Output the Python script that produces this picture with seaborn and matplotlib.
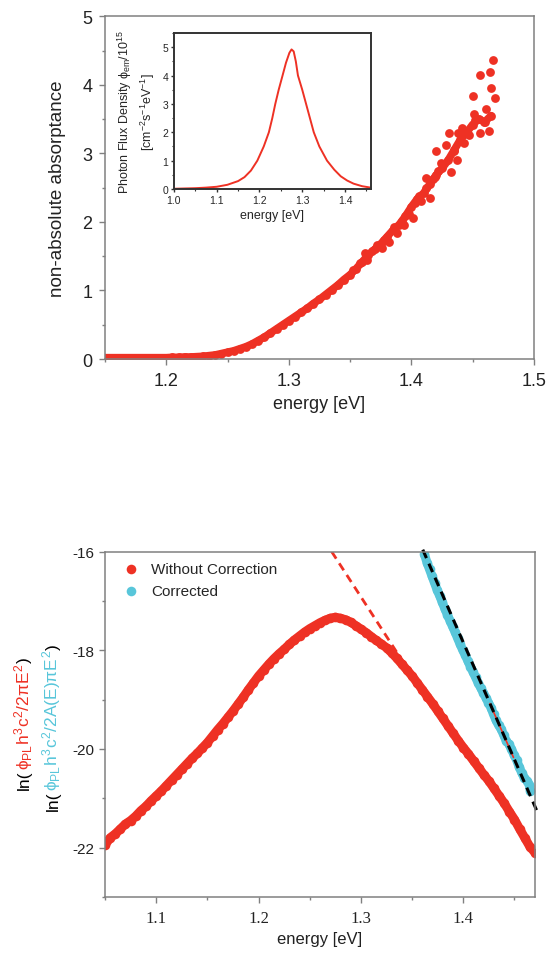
import seaborn as sns
import matplotlib.pyplot as plt
from matplotlib.ticker import MultipleLocator


RED = "#EE3124"
CYAN = "#58C6DA"
GRAY = "#808080"

# top panel: non-absolute absorptance
abs_energy = [1.150, 1.155, 1.160, 1.165, 1.170, 1.175, 1.180, 1.185, 1.190, 1.195,
              1.200, 1.205, 1.210, 1.215, 1.220, 1.225, 1.230, 1.235, 1.240, 1.245,
              1.250, 1.255, 1.260, 1.265, 1.270, 1.275, 1.280, 1.285, 1.290, 1.295,
              1.300, 1.305, 1.310, 1.315, 1.320, 1.325, 1.330, 1.335, 1.340, 1.345,
              1.350, 1.355, 1.360, 1.365, 1.370, 1.375, 1.380, 1.385, 1.390, 1.395,
              1.400, 1.405, 1.410, 1.415, 1.420, 1.425, 1.430, 1.435, 1.440, 1.445,
              1.450, 1.455, 1.460, 1.465]
abs_value = [0.02, 0.02, 0.02, 0.02, 0.02, 0.02, 0.02, 0.02, 0.02, 0.02,
             0.02, 0.025, 0.025, 0.03, 0.03, 0.035, 0.04, 0.05, 0.06, 0.08,
             0.10, 0.12, 0.15, 0.18, 0.22, 0.27, 0.32, 0.38, 0.44, 0.50,
             0.56, 0.62, 0.68, 0.74, 0.81, 0.87, 0.94, 1.01, 1.08, 1.16,
             1.23, 1.32, 1.42, 1.52, 1.60, 1.68, 1.78, 1.88, 1.96, 2.08,
             2.22, 2.34, 2.42, 2.55, 2.68, 2.78, 2.90, 3.05, 3.20, 3.30,
             3.42, 3.50, 3.46, 3.55]
# noisy points at the high-energy end
abs_noise_energy = [1.352, 1.358, 1.362, 1.364, 1.368, 1.372, 1.376, 1.378, 1.382, 1.386,
                    1.388, 1.392, 1.394, 1.398, 1.401, 1.403, 1.406, 1.408, 1.412, 1.412,
                    1.415, 1.418, 1.419, 1.420, 1.422, 1.424, 1.428, 1.431, 1.432, 1.435,
                    1.437, 1.438, 1.441, 1.443, 1.447, 1.450, 1.451, 1.452, 1.456, 1.456,
                    1.459, 1.461, 1.463, 1.464, 1.465, 1.467, 1.468]
abs_noise_value = [1.30, 1.40, 1.55, 1.45, 1.58, 1.66, 1.62, 1.74, 1.70, 1.92,
                   1.84, 2.02, 1.95, 2.12, 2.06, 2.28, 2.38, 2.30, 2.50, 2.64,
                   2.35, 2.62, 2.66, 3.03, 2.74, 2.86, 3.12, 3.29, 2.73, 3.03,
                   2.90, 3.29, 3.37, 3.15, 3.27, 3.84, 3.58, 3.48, 3.29, 4.15,
                   3.46, 3.65, 3.32, 4.18, 3.95, 4.36, 3.81]

# inset: photon flux density
pl_energy = [1.000, 1.025, 1.050, 1.075, 1.100, 1.125, 1.150, 1.165, 1.180, 1.195,
             1.210, 1.222, 1.230, 1.237, 1.245, 1.254, 1.262, 1.270, 1.275, 1.280,
             1.285, 1.290, 1.300, 1.309, 1.318, 1.327, 1.340, 1.358, 1.375, 1.390,
             1.405, 1.420, 1.440, 1.460]
pl_flux = [0.01, 0.02, 0.03, 0.05, 0.08, 0.15, 0.28, 0.42, 0.65, 1.00,
           1.50, 2.00, 2.50, 3.00, 3.50, 4.00, 4.45, 4.80, 4.92, 4.85,
           4.50, 4.00, 3.50, 3.00, 2.50, 2.00, 1.50, 1.00, 0.68, 0.45,
           0.30, 0.19, 0.10, 0.05]

# bottom panel: log of scaled PL
ln_energy = [1.050, 1.055, 1.060, 1.065, 1.070, 1.075, 1.080, 1.085, 1.090, 1.095,
             1.100, 1.105, 1.110, 1.115, 1.120, 1.125, 1.130, 1.135, 1.140, 1.145,
             1.150, 1.155, 1.160, 1.165, 1.170, 1.175, 1.180, 1.185, 1.190, 1.195,
             1.200, 1.205, 1.210, 1.215, 1.220, 1.225, 1.230, 1.235, 1.240, 1.245,
             1.250, 1.255, 1.260, 1.265, 1.270, 1.275, 1.280, 1.285, 1.290, 1.295,
             1.300, 1.305, 1.310, 1.315, 1.320, 1.325, 1.330, 1.335, 1.340, 1.345,
             1.350, 1.355, 1.360, 1.365, 1.370, 1.375, 1.380, 1.385, 1.390, 1.395,
             1.400, 1.405, 1.410, 1.415, 1.420, 1.425, 1.430, 1.435, 1.440, 1.445,
             1.450, 1.455, 1.460, 1.465, 1.470]
ln_raw = [-21.95, -21.80, -21.72, -21.62, -21.52, -21.45, -21.36, -21.25, -21.16, -21.05,
          -20.95, -20.85, -20.74, -20.63, -20.52, -20.41, -20.30, -20.19, -20.09, -19.98,
          -19.87, -19.74, -19.61, -19.49, -19.36, -19.23, -19.09, -18.95, -18.80, -18.66,
          -18.52, -18.40, -18.28, -18.17, -18.07, -17.98, -17.88, -17.79, -17.71, -17.63,
          -17.56, -17.50, -17.44, -17.39, -17.35, -17.33, -17.35, -17.38, -17.43, -17.50,
          -17.57, -17.64, -17.72, -17.80, -17.87, -17.95, -18.05, -18.16, -18.28, -18.40,
          -18.52, -18.66, -18.80, -18.94, -19.08, -19.23, -19.38, -19.53, -19.68, -19.83,
          -19.97, -20.10, -20.24, -20.38, -20.52, -20.65, -20.80, -20.95, -21.10, -21.27,
          -21.43, -21.62, -21.80, -21.98, -22.10]
ln_corr_energy = [1.3620, 1.3645, 1.3670, 1.3695, 1.3720, 1.3745, 1.3770, 1.3795, 1.3820, 1.3845,
                  1.3870, 1.3895, 1.3920, 1.3945, 1.3970, 1.3995, 1.4020, 1.4045, 1.4070, 1.4095,
                  1.4120, 1.4145, 1.4170, 1.4195, 1.4220, 1.4245, 1.4270, 1.4295, 1.4320, 1.4345,
                  1.4370, 1.4395, 1.4420, 1.4445, 1.4470, 1.4495, 1.4520, 1.4545, 1.4570, 1.4595,
                  1.4620, 1.4645, 1.4655]
ln_corr = [-16.05, -16.22, -16.36, -16.50, -16.64, -16.78, -16.90, -17.03, -17.16, -17.28,
           -17.40, -17.52, -17.63, -17.76, -17.88, -18.00, -18.10, -18.22, -18.33, -18.44,
           -18.55, -18.66, -18.76, -18.86, -18.96, -19.06, -19.16, -19.30, -19.42, -19.52,
           -19.60, -19.72, -19.84, -19.90, -20.00, -20.12, -20.22, -20.36, -20.48, -20.58,
           -20.64, -20.72, -20.85]

# fitted lines (end points)
fit_raw_energy = [1.2714, 1.3450]
fit_raw_value = [-16.0, -18.36]
fit_corr_energy = [1.3604, 1.4720]
fit_corr_value = [-15.96, -21.26]
fit_range_energy = [1.426, 1.449]
fit_range_value = [-19.08, -20.17]


def box(ax, color, lw):
    for sp in ax.spines.values():
        sp.set_visible(True)
        sp.set_color(color)
        sp.set_linewidth(lw)


def dot_band(ax, x, y, color, size, lw, label=None):
    # thick line under the dots so the dense data reads as one band
    sns.lineplot(x=x, y=y, ax=ax, color=color, linewidth=lw, legend=False,
                 solid_capstyle="round", solid_joinstyle="round")
    sns.scatterplot(x=x, y=y, ax=ax, color=color, s=size, linewidth=0, label=label,
                    legend=label is not None)


def colored_vlabel(ax, x, y, pieces, size):
    prev = None
    for txt, col in pieces:
        kw = dict(color=col, rotation=90, rotation_mode="anchor",
                  ha="left", va="baseline", fontsize=size)
        if prev is None:
            prev = ax.text(x, y, txt, transform=ax.transAxes, **kw)
        else:
            prev = ax.annotate(txt, xy=(x, 1), xycoords=(ax.transAxes, prev),
                               annotation_clip=False, **kw)


def main():
    sns.set_theme(style="ticks")
    plt.rcParams["font.family"] = ["Liberation Sans", "DejaVu Sans"]
    plt.rcParams["axes.unicode_minus"] = False
    plt.rcParams["mathtext.fontset"] = "custom"
    plt.rcParams["mathtext.rm"] = "Liberation Sans"
    plt.rcParams["mathtext.it"] = "Liberation Sans"
    plt.rcParams["mathtext.bf"] = "Liberation Sans:bold"

    fig = plt.figure(figsize=(5.47, 9.54), dpi=100)

    # --- top panel
    ax1 = fig.add_axes([0.192, 0.6226, 0.784, 0.3593])
    dot_band(ax1, abs_energy, abs_value, RED, 40, 5.5)
    sns.scatterplot(x=abs_noise_energy, y=abs_noise_value, ax=ax1, color=RED, s=40,
                    linewidth=0, legend=False)
    ax1.set_xlim(1.15, 1.5)
    ax1.set_ylim(0, 5)
    ax1.xaxis.set_major_locator(MultipleLocator(0.1))
    ax1.xaxis.set_minor_locator(MultipleLocator(0.05))
    ax1.yaxis.set_major_locator(MultipleLocator(1))
    ax1.yaxis.set_minor_locator(MultipleLocator(0.5))
    box(ax1, GRAY, 1.1)
    ax1.tick_params(which="major", direction="out", length=4, width=1, color=GRAY,
                    labelsize=13, labelcolor="#222222", pad=5)
    ax1.tick_params(which="minor", direction="out", length=2.5, width=1, color=GRAY)
    ax1.set_xlabel("energy [eV]", fontsize=13, color="#222222", labelpad=5)
    ax1.set_ylabel("non-absolute absorptance", fontsize=13.5, color="#222222", labelpad=12)

    # --- inset
    axi = fig.add_axes([0.318, 0.8008, 0.3596, 0.1636])
    sns.lineplot(x=pl_energy, y=pl_flux, ax=axi, color=RED, linewidth=1.4)
    axi.set_xlim(1.0, 1.46)
    axi.set_ylim(0, 5.5)
    axi.xaxis.set_major_locator(MultipleLocator(0.1))
    axi.xaxis.set_minor_locator(MultipleLocator(0.05))
    axi.yaxis.set_major_locator(MultipleLocator(1))
    axi.yaxis.set_minor_locator(MultipleLocator(0.5))
    box(axi, "#333333", 1.4)
    axi.tick_params(which="major", direction="out", length=2.5, width=1, color="#333333",
                    labelsize=7.5, pad=1.5)
    axi.tick_params(which="minor", direction="out", length=1.5, width=0.8, color="#333333")
    axi.set_xlabel("energy [eV]", fontsize=9, labelpad=3)
    axi.set_ylabel("Photon Flux Density $\\phi_{em}$/10$^{15}$\n[cm$^{-2}$s$^{-1}$eV$^{-1}$]",
                   fontsize=9, labelpad=4, linespacing=1.35)

    # --- bottom panel
    ax2 = fig.add_axes([0.192, 0.0587, 0.786, 0.362])
    dot_band(ax2, ln_energy, ln_raw, RED, 48, 6.5, "Without Correction")
    dot_band(ax2, ln_corr_energy, ln_corr, CYAN, 48, 6.5, "Corrected")
    sns.lineplot(x=fit_raw_energy, y=fit_raw_value, ax=ax2, color=RED, linewidth=2,
                 linestyle=(0, (3, 2)), legend=False)
    sns.lineplot(x=fit_range_energy, y=fit_range_value, ax=ax2, color=RED, linewidth=1.2,
                 legend=False)
    sns.lineplot(x=fit_corr_energy, y=fit_corr_value, ax=ax2, color="black", linewidth=2.2,
                 linestyle=(0, (3, 2)), legend=False, clip_on=False)
    ax2.set_xlim(1.05, 1.47)
    ax2.set_ylim(-23, -16)
    ax2.xaxis.set_major_locator(MultipleLocator(0.1))
    ax2.xaxis.set_minor_locator(MultipleLocator(0.05))
    ax2.yaxis.set_major_locator(MultipleLocator(2))
    ax2.yaxis.set_minor_locator(MultipleLocator(1))
    box(ax2, GRAY, 1.1)
    ax2.tick_params(which="major", direction="out", length=4, width=1, color=GRAY)
    ax2.tick_params(which="minor", direction="out", length=2.5, width=1, color=GRAY)
    ax2.tick_params(axis="y", labelsize=11, labelcolor="#222222", pad=4)
    ax2.tick_params(axis="x", labelsize=12, labelcolor="#222222", pad=5,
                    labelfontfamily="Liberation Serif")
    ax2.set_xlabel("energy [eV]", fontsize=12, color="#222222", labelpad=4)
    ax2.legend(loc="upper left", frameon=False, fontsize=11, handletextpad=0.3,
               borderaxespad=0.4, labelspacing=0.5, borderpad=0.3,
               bbox_to_anchor=(0.0, 1.0))

    colored_vlabel(ax2, -0.177, 0.314,
                   [("ln(", "black"), ("$\\phi_{PL}h^3c^2/2\\pi E^2$", RED), (")", "black")], 12.5)
    colored_vlabel(ax2, -0.110, 0.252,
                   [("ln(", "black"), ("$\\phi_{PL}h^3c^2/2A(E)\\pi E^2$", CYAN), (")", "black")], 12.5)

    fig.savefig("out.png", dpi=100)


if __name__ == "__main__":
    main()
